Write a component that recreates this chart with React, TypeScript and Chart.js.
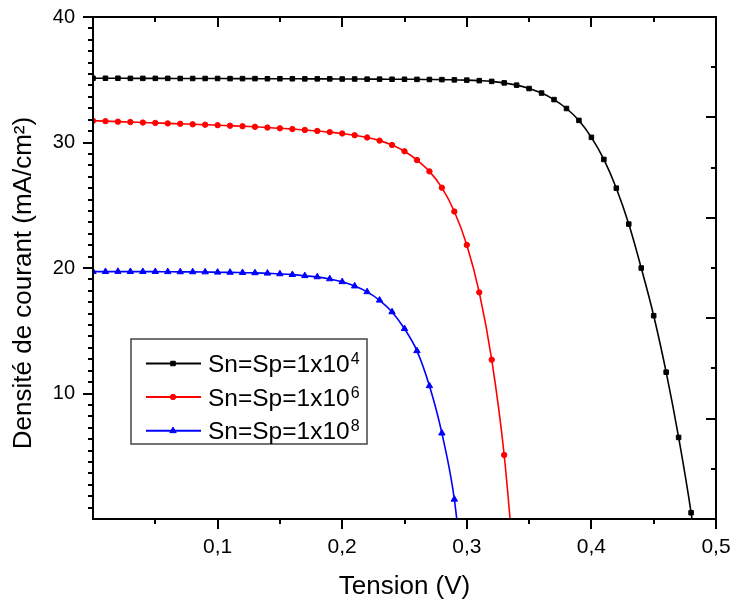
import React, { useEffect, useRef } from 'react';
import { Chart, registerables } from 'chart.js';
import { drawPoint } from 'chart.js/helpers';

Chart.register(...registerables);

const FONT = '"Liberation Sans", Arial, Helvetica, sans-serif';

// Tension (V)
const voltage = [
  0.00, 0.01, 0.02, 0.03, 0.04, 0.05, 0.06, 0.07, 0.08, 0.09,
  0.10, 0.11, 0.12, 0.13, 0.14, 0.15, 0.16, 0.17, 0.18, 0.19,
  0.20, 0.21, 0.22, 0.23, 0.24, 0.25, 0.26, 0.27, 0.28, 0.29,
  0.30, 0.31, 0.32, 0.33, 0.34, 0.35, 0.36, 0.37, 0.38, 0.39,
  0.40, 0.41, 0.42, 0.43, 0.44, 0.45, 0.46, 0.47, 0.48, 0.49,
];

// Densité de courant (mA/cm²), Sn=Sp=1x10^4
const jSn1e4 = [
  35.12, 35.12, 35.12, 35.11, 35.11, 35.11, 35.11, 35.10, 35.10, 35.10,
  35.10, 35.09, 35.09, 35.09, 35.08, 35.08, 35.08, 35.07, 35.07, 35.07,
  35.06, 35.06, 35.05, 35.05, 35.04, 35.04, 35.03, 35.02, 35.01, 34.99,
  34.97, 34.93, 34.87, 34.75, 34.57, 34.30, 33.94, 33.42, 32.71, 31.76,
  30.41, 28.65, 26.36, 23.50, 20.00, 16.20, 11.70, 6.50, 0.50, -7.0,
];

// Sn=Sp=1x10^6
const jSn1e6 = [
  31.73, 31.70, 31.66, 31.63, 31.59, 31.56, 31.52, 31.49, 31.45, 31.42,
  31.38, 31.34, 31.30, 31.25, 31.19, 31.13, 31.07, 31.00, 30.92, 30.83,
  30.72, 30.58, 30.40, 30.15, 29.80, 29.30, 28.60, 27.70, 26.40, 24.50,
  21.84, 18.06, 12.69, 5.10, -6.2,
];

// Sn=Sp=1x10^8
const jSn1e8 = [
  19.71, 19.71, 19.72, 19.71, 19.71, 19.71, 19.70, 19.69, 19.69, 19.68,
  19.66, 19.65, 19.63, 19.61, 19.58, 19.53, 19.47, 19.38, 19.29, 19.13,
  18.90, 18.56, 18.10, 17.43, 16.50, 15.16, 13.40, 10.61, 6.84, 1.57,
  -7.7,
];

const labelBase = 'Sn=Sp=1x10';
const labelExponents = ['4', '6', '8'];
const seriesLabels = ['Sn=Sp=1x10⁴', 'Sn=Sp=1x10⁶', 'Sn=Sp=1x10⁸'];
const seriesColors = ['#000000', '#ff0000', '#0000ff'];
const seriesPointStyles = ['rect', 'circle', 'triangle'];
const seriesPointRadius = [3.2, 2.7, 3.7];

const xTickValues = [0.1, 0.2, 0.3, 0.4, 0.5];
const yTickValues = [10, 20, 30, 40];
const xTitle = 'Tension (V)';
const yTitle = 'Densité de courant (mA/cm²)';

const toPoints = (vals: number[]) => vals.map((y, i) => ({ x: voltage[i], y }));

const framePlugin = {
  id: 'frameTicks',
  afterDatasetsDraw(chart: any) {
    const { ctx, chartArea, scales } = chart;
    const { left, right, top, bottom } = chartArea;
    const x = scales.x;
    const y = scales.y;
    ctx.save();
    ctx.strokeStyle = '#000';
    ctx.lineWidth = 2;
    ctx.strokeRect(left, top, right - left, bottom - top);
    ctx.beginPath();
    for (let k = 1; k <= 10; k++) {
      const px = Math.round(x.getPixelForValue(k * 0.05));
      const len = k % 2 === 0 ? 10 : 5;
      ctx.moveTo(px, bottom);
      ctx.lineTo(px, bottom + len);
      if (k < 10) {
        ctx.moveTo(px, top);
        ctx.lineTo(px, top + len);
      }
    }
    for (let m = 0; m < 40; m += 10) {
      for (let j = 1; j <= 10; j++) {
        const py = Math.round(y.getPixelForValue(m + (j * 10) / 11));
        ctx.moveTo(left, py);
        ctx.lineTo(left - 5, py);
      }
      const pm = Math.round(y.getPixelForValue(m + 10));
      ctx.moveTo(left, pm);
      ctx.lineTo(left - 10, pm);
    }
    for (let v = 4; v < 40; v += 4) {
      const py = Math.round(y.getPixelForValue(v));
      const len = v % 8 === 0 ? 10 : 5;
      ctx.moveTo(right, py);
      ctx.lineTo(right - len, py);
    }
    ctx.stroke();
    ctx.restore();
  },
};

const legendPlugin = {
  id: 'boxLegend',
  afterDatasetsDraw(chart: any) {
    const { ctx, chartArea } = chart;
    const bx = chartArea.left + 38;
    const by = chartArea.top + 322;
    const bw = 236;
    const bh = 105;
    ctx.save();
    ctx.fillStyle = '#fff';
    ctx.fillRect(bx, by, bw, bh);
    ctx.strokeStyle = '#444';
    ctx.lineWidth = 1.5;
    ctx.strokeRect(bx, by, bw, bh);
    const baselines = [33, 66.5, 100.3];
    chart.data.datasets.forEach((ds: any, i: number) => {
      const base = by + baselines[i];
      const cy = base - 8.5;
      ctx.strokeStyle = ds.borderColor;
      ctx.lineWidth = 2;
      ctx.beginPath();
      ctx.moveTo(bx + 15, cy);
      ctx.lineTo(bx + 70, cy);
      ctx.stroke();
      ctx.fillStyle = ds.borderColor;
      ctx.lineWidth = 1;
      drawPoint(ctx, { pointStyle: ds.pointStyle, radius: ds.pointRadius, rotation: 0, borderWidth: 1 }, bx + 42, cy);
      ctx.fillStyle = '#000';
      ctx.textBaseline = 'alphabetic';
      ctx.textAlign = 'left';
      ctx.font = `24.5px ${FONT}`;
      const tx = bx + 77;
      ctx.fillText(labelBase, tx, base);
      const w = ctx.measureText(labelBase).width;
      ctx.font = `16px ${FONT}`;
      ctx.fillText(labelExponents[i], tx + w + 1, base - 8);
    });
    ctx.restore();
  },
};

const yTitlePlugin = {
  id: 'yTitle',
  afterDraw(chart: any) {
    const { ctx, chartArea } = chart;
    const cy = (chartArea.top + chartArea.bottom) / 2 + 15;
    ctx.save();
    ctx.translate(24, cy);
    ctx.rotate(-Math.PI / 2);
    ctx.fillStyle = '#000';
    ctx.font = `26px ${FONT}`;
    ctx.textAlign = 'center';
    ctx.textBaseline = 'middle';
    ctx.fillText(yTitle, 0, 0);
    ctx.restore();
  },
};

export default function App() {
  const ref = useRef<HTMLCanvasElement>(null);
  useEffect(() => {
    const datasets = [jSn1e4, jSn1e6, jSn1e8].map((vals, i) => ({
      label: seriesLabels[i],
      data: toPoints(vals),
      borderColor: seriesColors[i],
      backgroundColor: seriesColors[i],
      pointBackgroundColor: seriesColors[i],
      pointBorderColor: seriesColors[i],
      pointStyle: seriesPointStyles[i],
      pointRadius: seriesPointRadius[i],
      pointBorderWidth: 1,
      borderWidth: 1.6,
      cubicInterpolationMode: 'monotone',
      fill: false,
    }));
    const chart = new Chart(ref.current as HTMLCanvasElement, {
      type: 'line',
      data: { datasets: datasets as any },
      options: {
        responsive: false,
        animation: false,
        devicePixelRatio: 1,
        layout: { padding: { left: 0, top: 17, right: 17, bottom: 0 } },
        plugins: { legend: { display: false }, tooltip: { enabled: false } },
        scales: {
          x: {
            type: 'linear',
            min: 0,
            max: 0.5,
            grid: { display: false, drawTicks: true, tickLength: 16 },
            border: { display: false },
            afterBuildTicks: (s: any) => {
              s.ticks = xTickValues.map((v) => ({ value: v }));
            },
            afterFit: (s: any) => {
              s.height = 87;
            },
            ticks: {
              callback: (v: any) => Number(v).toFixed(1).replace('.', ','),
              font: { family: FONT, size: 21 },
              color: '#000',
              padding: 0,
              maxRotation: 0,
              autoSkip: false,
            },
            title: {
              display: true,
              text: xTitle,
              font: { family: FONT, size: 26 },
              color: '#000',
              padding: { top: 0, bottom: 4 },
            },
          },
          y: {
            type: 'linear',
            min: 0,
            max: 40,
            grid: { display: false, drawTicks: true, tickLength: 18 },
            border: { display: false },
            afterBuildTicks: (s: any) => {
              s.ticks = yTickValues.map((v) => ({ value: v }));
            },
            afterFit: (s: any) => {
              s.width = 93;
            },
            ticks: {
              font: { family: FONT, size: 20 },
              color: '#000',
              padding: 0,
              autoSkip: false,
            },
          },
        },
      } as any,
      plugins: [framePlugin, legendPlugin, yTitlePlugin],
    });
    return () => chart.destroy();
  }, []);
  return (
    <div style={{ position: 'absolute', left: 0, top: 0, width: 733, height: 606, background: '#fff' }}>
      <canvas ref={ref} width={733} height={606} style={{ display: 'block' }} />
    </div>
  );
}
